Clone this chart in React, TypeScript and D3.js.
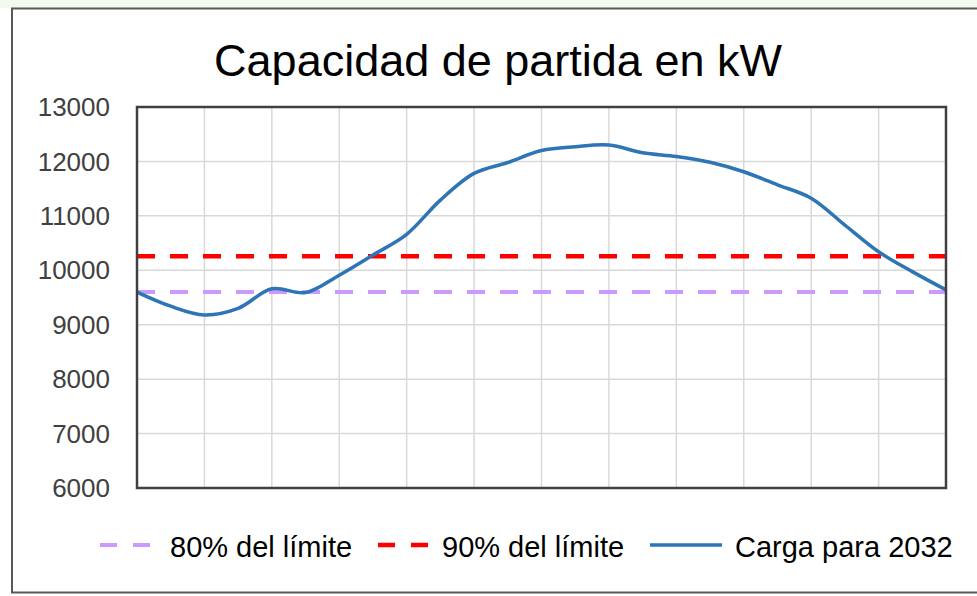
import React from 'react';
import * as d3 from 'd3';

// hourly load, 0..24
const hours = d3.range(0, 25);
const carga2032 = [
  9600, 9340, 9180, 9300, 9660, 9590, 9910, 10280, 10660, 11290, 11780, 11980, 12200,
  12270, 12300, 12160, 12090, 11985, 11810, 11570, 11325, 10830, 10340, 9975, 9640,
];
const limite80 = 9600;
const limite90 = 10260;
const yTicks = [6000, 7000, 8000, 9000, 10000, 11000, 12000, 13000];
const xGrid = [0, 2, 4, 6, 8, 10, 12, 14, 16, 18, 20, 22, 24];
const legendLabels = ['80% del límite', '90% del límite', 'Carga para 2032'];

const W = 977;
const H = 596;
const plot = { left: 137, right: 946, top: 107, bottom: 488 };
const font = 'Arial, "Liberation Sans", sans-serif';

const App: React.FC = () => {
  const x = d3.scaleLinear().domain([0, 24]).range([plot.left, plot.right]);
  const y = d3.scaleLinear().domain([6000, 13000]).range([plot.bottom, plot.top]);

  const line = d3.line<number>()
    .x((_, i) => x(hours[i]))
    .y(d => y(d))
    .curve(d3.curveCatmullRom.alpha(0.5));

  return (
    <svg width={W} height={H} style={{ position: 'absolute', left: 0, top: 0, background: '#fff' }}>
      <rect x={0} y={0} width={W} height={8} fill="#f4f9f0" />
      {/* outer chart frame */}
      <rect x={12} y={8.5} width={W} height={584} fill="#fff" stroke="#595959" strokeWidth={2} />

      <text x={498} y={76} textAnchor="middle" fontFamily={font} fontSize={45} fill="#000">
        Capacidad de partida en kW
      </text>

      {/* grid */}
      <g stroke="#d9d9d9" strokeWidth={1.5}>
        {yTicks.map(t => (
          <line key={t} x1={plot.left} x2={plot.right} y1={y(t)} y2={y(t)} />
        ))}
        {xGrid.map(t => (
          <line key={t} x1={x(t)} x2={x(t)} y1={plot.top} y2={plot.bottom} />
        ))}
      </g>

      {/* y labels */}
      <g fontFamily={font} fontSize={26} fill="#404040" textAnchor="end">
        {yTicks.map(t => (
          <text key={t} x={110} y={y(t)} dy="0.35em">{t}</text>
        ))}
      </g>

      {/* limits */}
      <line x1={plot.left} x2={plot.right} y1={y(limite80)} y2={y(limite80)}
        stroke="#cc99ff" strokeWidth={4} strokeDasharray="18 15" />
      <line x1={plot.left} x2={plot.right} y1={y(limite90)} y2={y(limite90)}
        stroke="#ff0000" strokeWidth={4.5} strokeDasharray="18 15" />

      <path d={line(carga2032) || ''} fill="none" stroke="#2e75b6" strokeWidth={3.5} />

      <rect x={plot.left} y={plot.top} width={plot.right - plot.left} height={plot.bottom - plot.top}
        fill="none" stroke="#404040" strokeWidth={2.5} />

      {/* legend */}
      <g fontFamily={font} fontSize={29} fill="#000">
        <line x1={100} x2={152} y1={545} y2={545} stroke="#cc99ff" strokeWidth={4} strokeDasharray="17 16" />
        <text x={170} y={557}>{legendLabels[0]}</text>
        <line x1={378} x2={430} y1={545} y2={545} stroke="#ff0000" strokeWidth={4.5} strokeDasharray="17 16" />
        <text x={442} y={557}>{legendLabels[1]}</text>
        <line x1={650} x2={722} y1={545} y2={545} stroke="#2e75b6" strokeWidth={3.5} />
        <text x={735} y={557}>{legendLabels[2]}</text>
      </g>
    </svg>
  );
};

export default App;
